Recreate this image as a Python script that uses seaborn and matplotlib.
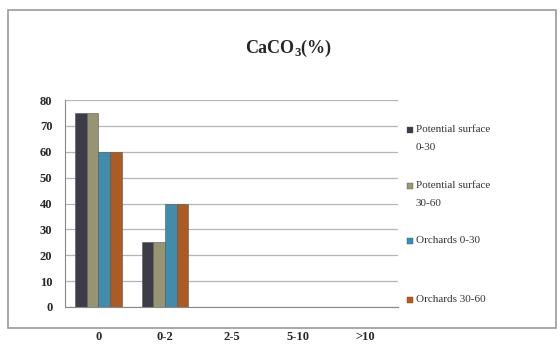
import numpy as np
import pandas as pd
import matplotlib
matplotlib.use("Agg")
import matplotlib.pyplot as plt
from matplotlib.patches import Rectangle
import seaborn as sns

categories = ["0", "0-2", "2-5", "5-10", ">10"]
series = ["Potential surface\n0-30", "Potential surface\n30-60", "Orchards 0-30", "Orchards 30-60"]
pot_0_30 = [75, 25, 0, 0, 0]
pot_30_60 = [75, 25, 0, 0, 0]
orch_0_30 = [60, 40, 0, 0, 0]
orch_30_60 = [60, 40, 0, 0, 0]
colors = ["#3b3b4b", "#9c9a6c", "#2f93bd", "#c2570f"]

rows = []
for name, vals in zip(series, [pot_0_30, pot_30_60, orch_0_30, orch_30_60]):
    for c, v in zip(categories, vals):
        rows.append({"cat": c, "series": name, "value": v})
df = pd.DataFrame(rows)

sns.set_style("white")
plt.rcParams["font.family"] = ["Liberation Serif", "DejaVu Serif"]
plt.rcParams["mathtext.fontset"] = "custom"
plt.rcParams["mathtext.rm"] = "Liberation Serif:bold"

fig = plt.figure(figsize=(5.6, 3.58), dpi=100)
fig.patches.append(Rectangle((8 / 560, 1 - 328 / 358), 548 / 560, 318 / 358,
                             transform=fig.transFigure, fill=False,
                             edgecolor="#9a9a9a", linewidth=1.2))

ax = fig.add_axes([0.116, 0.1425, 0.595, 0.578])
sns.barplot(data=df, x="cat", y="value", hue="series", palette=colors,
            width=0.7, ax=ax, edgecolor="#555555", linewidth=0.4, legend=False)

ax.set_ylim(0, 80)
ax.set_yticks(range(0, 81, 10))
ax.yaxis.grid(True, color="#b5b5b5", linewidth=0.9)
ax.set_axisbelow(True)
ax.set_xlabel("")
ax.set_ylabel("")
for s in ["top", "right"]:
    ax.spines[s].set_visible(False)
ax.spines["left"].set_color("#888888")
ax.spines["bottom"].set_color("#888888")
ax.tick_params(axis="y", labelsize=9, length=3, color="#888888", pad=6)
ax.tick_params(axis="x", labelsize=9, length=0, pad=17)
for lbl in ax.get_yticklabels() + ax.get_xticklabels():
    lbl.set_fontweight("bold")

# legend, Excel style: marker aligned with first text line
legend_y = [130, 186, 241, 300]
for name, col, yp in zip(series, colors, legend_y):
    fy = 1 - yp / 358
    fig.patches.append(Rectangle((407 / 560, fy - 3 / 358), 6 / 560, 6 / 358,
                                 transform=fig.transFigure, facecolor=col,
                                 edgecolor="#555555", linewidth=0.3))
    fig.text(416 / 560, fy + 5 / 358, name, ha="left", va="top", fontsize=8,
             linespacing=2.3, color="#333333")

fig.text(0.515, 0.865, r"CaCO$_\mathrm{3}$(%)", ha="center", va="center",
         fontsize=13, fontweight="bold")

fig.savefig("out.png", dpi=100)
